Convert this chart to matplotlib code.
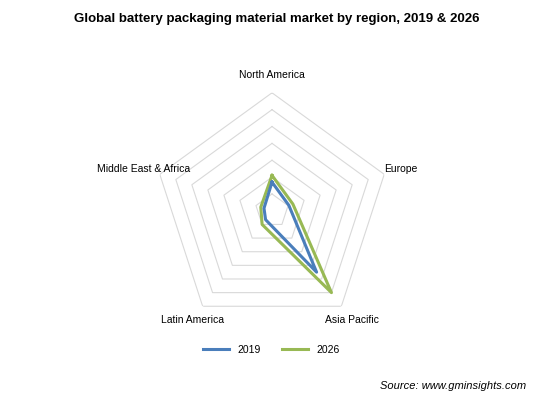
import numpy as np
import matplotlib.pyplot as plt

categories = ["North America", "Europe", "Asia Pacific", "Latin America", "Middle East & Africa"]
v2019 = [1.7, 1.05, 4.5, 0.65, 0.5]
v2026 = [2.1, 1.3, 6.0, 1.0, 0.7]
rmax = 7

fig = plt.figure(figsize=(5.54, 4.05), dpi=100)
ax = fig.add_axes([0.278, 0.188, 0.426, 0.583], projection="polar")
ax.set_theta_offset(np.pi / 2)
ax.set_theta_direction(-1)
n = len(categories)
ang = np.linspace(0, 2 * np.pi, n, endpoint=False)
ac = np.append(ang, ang[0])
for r in range(1, rmax + 1):
    ax.plot(ac, [r] * (n + 1), color="#d9d9d9", lw=0.8, zorder=1)
ax.set_ylim(0, rmax)
ax.grid(False)
ax.spines["polar"].set_visible(False)
ax.set_yticks([])
ax.set_xticks(ang)
ax.set_xticklabels(categories, fontsize=7.5, family="Liberation Sans")
ax.tick_params(axis="x", pad=2)
ax.plot(ac, v2019 + v2019[:1], color="#4a7ebb", lw=2.2, label="2019", zorder=3)
ax.plot(ac, v2026 + v2026[:1], color="#98b954", lw=2.2, label="2026", zorder=2)

fig.text(0.5, 0.945, "Global battery packaging material market by region, 2019 & 2026",
         ha="center", fontsize=9.5, fontweight="bold", family="Liberation Sans")
fig.legend(loc="lower center", bbox_to_anchor=(0.49, 0.1), ncol=2, frameon=False,
           prop={"family": "Liberation Sans", "size": 7.5}, handlelength=2.5)
fig.text(0.95, 0.04, "Source: www.gminsights.com", ha="right", fontsize=8,
         style="italic", family="Liberation Sans")
fig.savefig("out.png", dpi=100)
